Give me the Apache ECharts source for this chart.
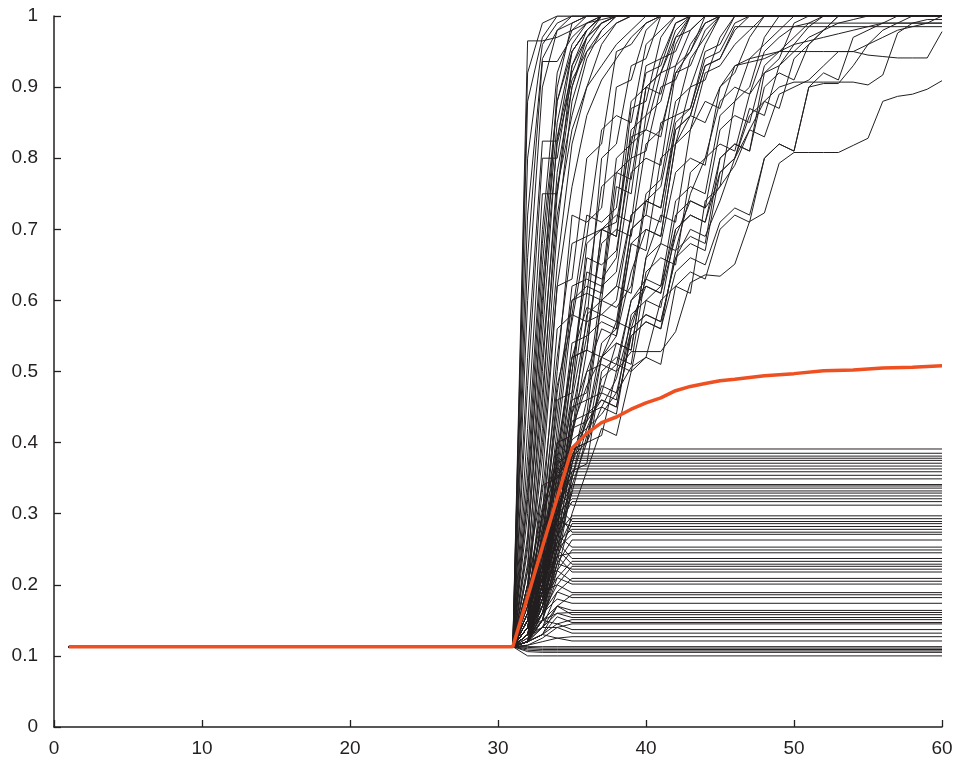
<!DOCTYPE html>
<html>
<head>
<meta charset="utf-8">
<script src="https://cdn.jsdelivr.net/npm/echarts@6/dist/echarts.min.js"></script>
<style>html,body{margin:0;padding:0;background:#fff}#c{width:960px;height:763px}</style>
</head>
<body>
<div id="c"></div>
<script>
// x ticks / y ticks
const xTicks = [0, 10, 20, 30, 40, 50, 60];
const yTicks = [0, 0.1, 0.2, 0.3, 0.4, 0.5, 0.6, 0.7, 0.8, 0.9, 1];

// Mean curve (red)
const meanX = [1, 31, 32, 33, 34, 35, 36, 37, 38, 39, 40, 41, 42, 43, 44, 45, 46, 48, 50, 52, 54, 56, 58, 60];
const meanY = [0.113, 0.113, 0.183, 0.253, 0.322, 0.392, 0.413, 0.428, 0.436, 0.447, 0.456, 0.463, 0.473, 0.479, 0.483, 0.487, 0.489, 0.494, 0.497, 0.501, 0.502, 0.505, 0.506, 0.508];

// Runs that stall: final level reached at x=35, values at x=32,33,34 before it
const flatLevels = [0.391,0.385,0.381,0.378,0.375,0.371,0.367,0.363,0.359,0.354,0.349,0.341,0.339,0.336,0.332,0.329,0.325,0.321,0.317,0.312,
  0.297,0.293,0.289,0.286,0.282,0.278,0.274,0.271,0.263,0.253,0.249,0.245,0.237,0.233,0.229,0.226,0.222,0.218,0.209,0.205,0.201,
  0.189,0.186,0.182,0.174,0.164,0.161,0.158,0.154,0.151,0.147,0.145,0.137,0.132,0.127,0.121,0.113,0.111,0.109,0.107,0.105,0.100];
const flatRamps = [
  [0.16,0.26,0.35],[0.2,0.31,0.37],[0.14,0.22,0.33],[0.18,0.29,0.4],[0.15,0.27,0.36],[0.22,0.34,0.35],[0.13,0.2,0.3],[0.17,0.3,0.38],
  [0.15,0.24,0.33],[0.19,0.28,0.31],[0.14,0.25,0.37],[0.16,0.23,0.3],[0.13,0.21,0.32],[0.2,0.3,0.36],[0.15,0.26,0.29],[0.14,0.19,0.27],
  [0.18,0.27,0.34],[0.13,0.22,0.3],[0.16,0.25,0.28],[0.14,0.2,0.33],
  [0.15,0.23,0.27],[0.13,0.18,0.25],[0.17,0.26,0.31],[0.14,0.21,0.24],[0.12,0.19,0.29],[0.16,0.22,0.26],[0.13,0.2,0.3],[0.15,0.24,0.25],
  [0.14,0.17,0.23],[0.12,0.19,0.27],[0.15,0.21,0.22],[0.13,0.16,0.24],[0.14,0.2,0.26],[0.12,0.18,0.21],[0.15,0.17,0.25],[0.13,0.19,0.2],
  [0.12,0.15,0.23],[0.14,0.18,0.24],[0.13,0.16,0.19],[0.12,0.17,0.22],[0.14,0.15,0.21],
  [0.12,0.16,0.2],[0.13,0.15,0.17],[0.12,0.14,0.19],[0.13,0.16,0.18],[0.12,0.14,0.17],[0.125,0.15,0.16],[0.12,0.13,0.17],[0.13,0.14,0.16],
  [0.12,0.15,0.145],[0.12,0.13,0.155],[0.125,0.14,0.14],[0.12,0.13,0.145],[0.115,0.125,0.14],[0.12,0.13,0.125],[0.115,0.12,0.125],
  [0.113,0.113,0.113],[0.112,0.111,0.111],[0.11,0.109,0.109],[0.108,0.107,0.107],[0.106,0.105,0.105],[0.1,0.1,0.1]
];

// Rising runs: values from x=31 onward (one per step)
const fastPaths = [
  [0.113,0.965,0.965,0.97,0.98,0.99,0.995,1],
  [0.113,0.92,0.99,1],
  [0.113,0.88,0.97,1],
  [0.113,0.8,0.96,0.99,1],
  [0.113,0.72,0.94,0.98,0.99,1],
  [0.113,0.66,0.936,0.936,0.97,0.99,1],
  [0.113,0.6,0.9,0.98,1],
  [0.113,0.52,0.824,0.824,0.95,0.98,1],
  [0.113,0.48,0.8,0.8,0.93,0.97,0.99,1],
  [0.113,0.42,0.75,0.75,0.9,0.97,1],
  [0.113,0.38,0.7,0.92,0.98,1],
  [0.113,0.33,0.65,0.88,0.96,0.99,1],
  [0.113,0.3,0.62,0.85,0.95,0.98,1],
  [0.113,0.27,0.58,0.9,0.99,1],
  [0.113,0.25,0.55,0.83,0.92,0.97,0.99,1],
  [0.113,0.22,0.5,0.78,0.9,0.96,0.99,1],
  [0.113,0.2,0.45,0.75,0.93,0.98,1],
  [0.113,0.18,0.42,0.7,0.88,0.95,0.98,1],
  [0.113,0.35,0.68,0.88,0.95,0.98,1],
  [0.113,0.32,0.6,0.82,0.91,0.95,0.97,0.99,1],
  [0.113,0.26,0.52,0.76,0.86,0.94,0.98,1],
  [0.113,0.23,0.47,0.72,0.84,0.9,0.93,0.96,0.98,1],
  [0.113,0.2,0.4,0.65,0.82,0.9,0.96,0.99,1],
  [0.113,0.19,0.38,0.62,0.76,0.86,0.91,0.94,0.97,0.99,1]
];
const midPaths = [
  [0.113,0.16,0.35,0.62,0.63,0.8,0.82,0.95,0.96,0.99,1],
  [0.113,0.15,0.3,0.56,0.58,0.57,0.8,0.82,0.93,0.94,1],
  [0.113,0.14,0.28,0.5,0.72,0.71,0.73,0.9,0.91,0.98,1],
  [0.113,0.15,0.25,0.46,0.47,0.68,0.7,0.69,0.87,0.88,0.97,1],
  [0.113,0.13,0.24,0.42,0.6,0.62,0.61,0.78,0.8,0.93,0.94,0.99,1],
  [0.113,0.14,0.22,0.4,0.41,0.58,0.6,0.76,0.75,0.9,0.92,0.98,1],
  [0.113,0.13,0.2,0.38,0.52,0.53,0.7,0.72,0.71,0.86,0.88,0.96,1],
  [0.113,0.12,0.22,0.35,0.5,0.64,0.63,0.66,0.82,0.84,0.92,0.93,0.98,1],
  [0.113,0.13,0.2,0.32,0.46,0.47,0.62,0.64,0.78,0.8,0.79,0.92,0.95,1],
  [0.113,0.12,0.18,0.3,0.44,0.55,0.57,0.56,0.7,0.72,0.85,0.86,0.94,0.97,1],
  [0.113,0.14,0.19,0.28,0.42,0.43,0.54,0.56,0.68,0.67,0.8,0.82,0.9,0.91,0.97,1],
  [0.113,0.12,0.17,0.27,0.45,0.46,0.6,0.59,0.62,0.75,0.77,0.88,0.9,0.96,1],
  [0.113,0.13,0.21,0.33,0.5,0.66,0.65,0.67,0.8,0.81,0.9,0.91,0.96,0.99,1],
  [0.113,0.12,0.16,0.26,0.38,0.4,0.52,0.54,0.53,0.66,0.68,0.78,0.8,0.79,0.9,0.92,0.97,1],
  [0.113,0.13,0.18,0.31,0.43,0.44,0.6,0.62,0.61,0.74,0.76,0.86,0.87,0.95,0.96,1],
  [0.113,0.12,0.2,0.36,0.52,0.53,0.7,0.71,0.83,0.84,0.83,0.93,0.95,0.99,1],
  [0.113,0.14,0.23,0.4,0.58,0.72,0.71,0.73,0.88,0.9,0.89,0.97,0.98,1],
  [0.113,0.12,0.15,0.25,0.36,0.37,0.5,0.52,0.51,0.64,0.66,0.65,0.78,0.8,0.88,0.9,0.89,0.95,0.97,0.985,0.99],
  [0.113,0.13,0.19,0.29,0.41,0.53,0.52,0.55,0.68,0.7,0.69,0.82,0.84,0.92,0.93,0.96,0.98,1],
  [0.113,0.12,0.17,0.28,0.39,0.4,0.49,0.51,0.5,0.6,0.62,0.74,0.76,0.75,0.86,0.88,0.94,0.96,0.98,1],
  [0.113,0.13,0.2,0.34,0.47,0.61,0.6,0.62,0.72,0.74,0.73,0.84,0.86,0.93,0.94,0.985],
  [0.113,0.12,0.16,0.24,0.35,0.44,0.45,0.44,0.56,0.58,0.57,0.66,0.68,0.67,0.78,0.8,0.86,0.88,0.87,0.94,0.96,0.98,1],
  [0.113,0.17,0.33,0.52,0.68,0.69,0.84,0.86,0.85,0.96,0.98,1],
  [0.113,0.15,0.27,0.44,0.62,0.63,0.62,0.8,0.82,0.92,0.93,0.99,1],
  [0.113,0.16,0.3,0.48,0.57,0.69,0.7,0.69,0.84,0.86,0.94,0.95,1],
  [0.113,0.13,0.23,0.37,0.54,0.55,0.68,0.7,0.69,0.82,0.84,0.92,0.93,0.98,1],
  [0.113,0.12,0.19,0.33,0.46,0.57,0.58,0.57,0.7,0.72,0.71,0.84,0.86,0.93,0.94,0.98,1],
  [0.113,0.14,0.26,0.47,0.6,0.61,0.76,0.78,0.77,0.9,0.92,0.97,1],
  [0.113,0.13,0.22,0.39,0.52,0.59,0.58,0.6,0.72,0.74,0.73,0.85,0.87,0.94,0.95,0.99,1],
  [0.113,0.12,0.2,0.31,0.41,0.5,0.51,0.5,0.6,0.62,0.61,0.72,0.74,0.73,0.84,0.86,0.85,0.93,0.95,0.97,0.99,1],
  [0.113,0.13,0.18,0.29,0.37,0.46,0.47,0.46,0.58,0.6,0.59,0.7,0.72,0.71,0.8,0.82,0.81,0.9,0.92,0.91,0.96,0.98,1],
  [0.113,0.14,0.22,0.32,0.404,0.42,0.44,0.47,0.506,0.52,0.6,0.62,0.61,0.74,0.76,0.88,0.9,0.97,1],
  [0.113,0.13,0.2,0.3,0.38,0.43,0.46,0.45,0.55,0.57,0.56,0.67,0.69,0.68,0.8,0.82,0.81,0.92,0.94,0.99,1]
];
const slowPaths = [
  [0.113,0.14,0.2,0.3,0.39,0.4,0.41,0.5,0.528,0.528,0.528,0.556,0.625,0.636,0.634,0.651,0.711,0.723,0.793,0.808,0.808,0.808,0.808,0.818,0.828,0.88,0.887,0.89,0.897,0.909],
  [0.113,0.13,0.19,0.3,0.38,0.44,0.46,0.45,0.55,0.57,0.56,0.64,0.66,0.65,0.71,0.73,0.72,0.8,0.82,0.81,0.9,0.905,0.905,0.93,0.96,0.98,0.99,1],
  [0.113,0.12,0.15,0.22,0.3,0.36,0.42,0.41,0.5,0.52,0.51,0.62,0.64,0.63,0.7,0.72,0.71,0.8,0.82,0.81,0.9,0.92,0.91,0.97,0.98,0.99,1],
  [0.113,0.13,0.17,0.25,0.33,0.41,0.48,0.47,0.56,0.58,0.57,0.66,0.7,0.69,0.74,0.8,0.87,0.86,0.93,0.96,0.985,1],
  [0.113,0.12,0.18,0.27,0.37,0.43,0.52,0.57,0.56,0.63,0.68,0.67,0.75,0.8,0.82,0.81,0.89,0.92,0.93,0.95,0.97,0.98,0.99,0.995,1],
  [0.113,0.12,0.16,0.23,0.34,0.4,0.45,0.49,0.57,0.62,0.61,0.69,0.74,0.73,0.76,0.79,0.84,0.83,0.89,0.9,0.91,0.93,0.95,0.95,0.96,0.97,0.98,0.985,0.99,1],
  [0.113,0.14,0.21,0.32,0.44,0.5,0.56,0.55,0.64,0.7,0.69,0.82,0.86,0.85,0.9,0.93,0.94,0.945,0.95,0.95,0.95,0.95,0.95,0.95,0.945,0.943,0.941,0.941,0.941,0.978],
  [0.113,0.13,0.2,0.31,0.42,0.48,0.52,0.51,0.6,0.63,0.62,0.7,0.72,0.71,0.78,0.8,0.84,0.88,0.9,0.907,0.907,0.907,0.907,0.907,0.903,0.917,0.976,0.99,0.995],
  [0.113,0.12,0.17,0.26,0.35,0.42,0.47,0.54,0.53,0.66,0.72,0.71,0.84,0.88,0.87,0.93,0.935,0.94,0.95,0.96,0.965,0.97,0.975,0.98,0.985,0.99,0.99,0.99,0.99,0.99]
];

const lineColor = '#231f20';
const series = [];
function addPath(values) {
  const d = [[1, 0.113]];
  values.forEach((v, i) => d.push([31 + i, v]));
  const last = d[d.length - 1];
  if (last[0] < 60) d.push([60, last[1]]);
  series.push({type:'line', data:d, symbol:'none', silent:true, z:2,
    lineStyle:{color:lineColor, width:1}});
}
flatLevels.forEach((L, i) => {
  const r = flatRamps[i];
  addPath([0.113, r[0], r[1], r[2], L]);
});
fastPaths.forEach(addPath);
midPaths.forEach(addPath);
slowPaths.forEach(addPath);
series.push({type:'line', data:meanX.map((x,i)=>[x, meanY[i]]), symbol:'none', silent:true, z:5,
  lineStyle:{color:'#ef5022', width:3.5}});

const axisCommon = {
  axisLine:{show:true, onZero:false, lineStyle:{color:'#231f20', width:1.5}},
  axisTick:{show:true, inside:true, length:7, lineStyle:{color:'#231f20', width:1.3}},
  splitLine:{show:false},
  axisLabel:{color:'#231f20', fontSize:19, fontFamily:'Liberation Sans, Arial, sans-serif'}
};
const chart = echarts.init(document.getElementById('c'), null, {renderer:'canvas'});
chart.setOption({
  animation:false,
  backgroundColor:'#fff',
  grid:{left:54, right:18, top:16, bottom:36},
  xAxis:Object.assign({type:'value', min:xTicks[0], max:xTicks[xTicks.length-1], interval:10}, axisCommon,
    {axisLabel:Object.assign({}, axisCommon.axisLabel, {margin:12})}),
  yAxis:Object.assign({type:'value', min:yTicks[0], max:yTicks[yTicks.length-1], interval:0.1}, axisCommon,
    {axisLabel:Object.assign({}, axisCommon.axisLabel, {margin:16})}),
  series:series
});
</script>
</body>
</html>
